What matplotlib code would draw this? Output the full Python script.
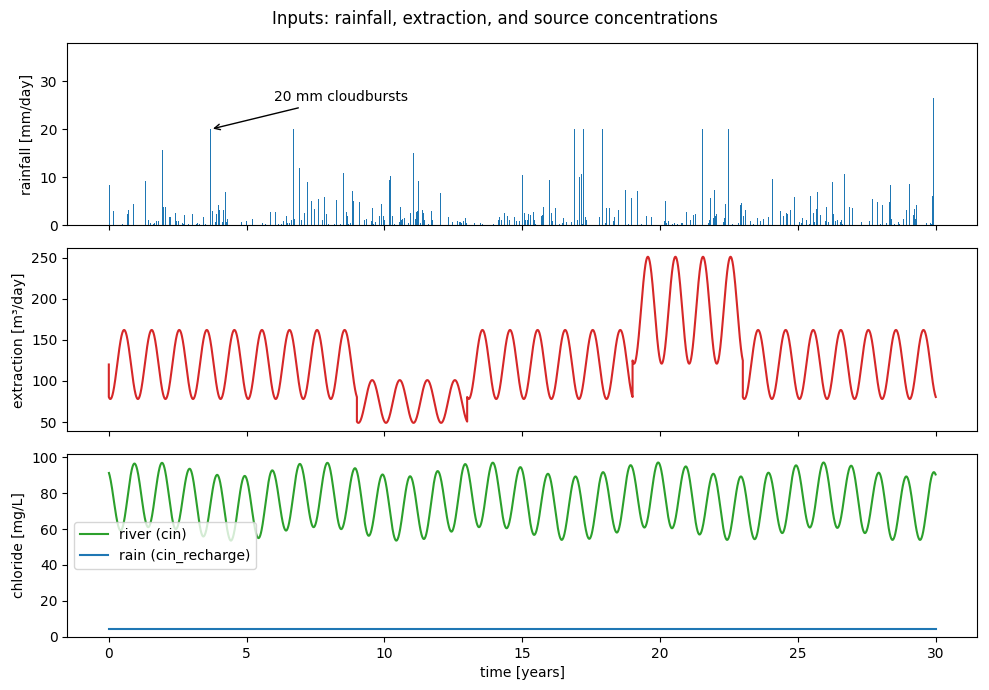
import numpy as np
import matplotlib
matplotlib.use("Agg")
import matplotlib.pyplot as plt

# rainfall events: time [years], amount [mm/day]
rain_t = [0.01, 0.18, 0.50, 0.69, 0.72, 0.90, 1.34, 1.44, 1.52, 1.63,
          1.66, 1.73, 1.80, 1.95, 1.99, 2.06, 2.21, 2.24, 2.42, 2.46,
          2.53, 2.67, 2.71, 2.75, 2.89, 3.04, 3.18, 3.22, 3.29, 3.43,
          3.51, 3.68, 3.75, 3.86, 3.90, 3.97, 4.01, 4.12, 4.15, 4.23,
          4.26, 4.30, 4.80, 4.98, 5.20, 5.56, 5.59, 5.63, 5.67, 5.85,
          5.88, 5.92, 6.03, 6.17, 6.28, 6.35, 6.46, 6.49, 6.56, 6.64,
          6.71, 6.75, 6.93, 7.00, 7.11, 7.22, 7.36, 7.47,
          7.61, 7.76, 7.83, 7.90, 7.97, 8.19, 8.26, 8.41, 8.52, 8.62,
          8.66, 8.70, 8.77, 8.84, 8.88, 9.10, 9.28, 9.35, 9.53, 9.56,
          9.60, 9.67, 9.82, 9.89, 9.96, 10.00, 10.18, 10.21, 10.28, 10.35,
          10.53, 10.57, 10.61, 10.64, 10.71, 10.86, 10.93, 11.04, 11.12, 11.15,
          11.19, 11.22, 11.30, 11.37, 11.41, 11.45, 11.59, 11.70, 11.73, 12.02,
          12.31, 12.46, 12.64, 12.71, 12.75, 12.78, 12.86, 12.93, 12.96, 13.25,
          13.47, 13.54, 13.94, 14.12, 14.19, 14.26, 14.30, 14.37, 14.48, 14.52,
          14.59, 14.73, 14.80, 14.91, 14.99, 15.01,
          15.08, 15.12, 15.19, 15.23, 15.30, 15.41, 15.45, 15.48, 15.70, 15.74,
          15.77, 15.99, 16.06, 16.10, 16.21, 16.35, 16.46, 16.49, 16.60, 16.78,
          16.89, 17.00, 17.07, 17.14, 17.18, 17.21, 17.29, 17.32, 17.79, 17.90,
          18.01, 18.05, 18.16, 18.30, 18.34, 18.48, 18.74, 18.85, 18.96, 19.17,
          19.32, 19.50, 19.68, 20.15, 20.19, 20.22, 20.29, 20.44, 20.51, 20.62,
          20.76, 20.80, 20.94, 21.09, 21.20, 21.27, 21.41, 21.54, 21.76, 21.79,
          21.83, 21.94, 21.97, 22.01, 22.05, 22.30, 22.33, 22.37, 22.48, 22.63,
          22.85, 22.92, 22.96, 23.03, 23.10, 23.28, 23.39, 23.53, 23.64, 23.75,
          23.93, 24.08, 24.36, 24.47, 24.58, 24.62, 24.73, 24.87, 25.05, 25.12,
          25.16, 25.30, 25.41, 25.45, 25.56, 25.59, 25.67, 25.70, 25.81, 25.99,
          26.03, 26.10, 26.24, 26.28, 26.35, 26.42, 26.53, 26.57, 26.60, 26.68,
          26.86, 26.97, 27.07, 27.29, 27.58, 27.69, 27.72, 27.87, 27.90, 27.94,
          28.01, 28.05, 28.08, 28.22, 28.33, 28.37, 28.40, 28.51, 28.66, 28.69,
          28.84, 28.94, 29.05, 29.20, 29.23, 29.27, 29.31, 29.67, 29.81, 29.85,
          29.88, 29.92]
rain_mm = [8.4, 3.0, 0.3, 2.4, 3.2, 4.4, 9.2, 1.1, 0.5, 0.3,
           0.5, 0.9, 0.9, 15.7, 3.8, 3.8, 1.7, 1.7, 2.6, 0.9,
           0.9, 0.5, 0.3, 2.2, 0.3, 2.4, 0.3, 0.5, 0.3, 1.7,
           0.3, 20.0, 3.0, 0.7, 2.4, 4.2, 3.2, 0.7, 3.2, 6.9,
           0.7, 1.3, 0.7, 0.9, 1.3, 0.3, 0.5, 1.3, 0.3, 2.8,
           0.3, 1.7, 2.8, 0.3, 0.3, 0.9, 1.9, 0.5, 0.5, 1.1,
           20.0, 1.3, 11.9, 1.1, 2.6, 9.0, 5.1, 3.4,
           5.5, 1.1, 5.9, 2.4, 0.3, 0.3, 5.3, 0.3, 10.9, 2.8,
           1.9, 0.3, 0.5, 7.2, 5.1, 4.9, 1.1, 1.3, 0.9, 3.6,
           0.3, 0.7, 1.9, 4.4, 1.9, 1.1, 9.4, 10.3, 1.9, 0.3,
           0.7, 3.8, 1.1, 1.3, 1.5, 0.5, 2.6, 15.1, 1.3, 2.8,
           3.0, 9.2, 0.5, 3.2, 2.6, 1.1, 0.3, 3.0, 1.1, 6.7,
           1.7, 0.7, 0.9, 0.7, 0.7, 0.5, 0.9, 1.5, 0.5, 0.5,
           0.5, 0.3, 0.3, 1.1, 1.7, 1.1, 1.5, 2.6, 1.9, 1.1,
           3.6, 1.7, 0.9, 0.9, 5.3, 10.5,
           2.6, 1.1, 1.1, 2.4, 2.2, 2.8, 1.1, 0.3, 1.9, 2.2,
           3.8, 9.4, 2.6, 0.9, 3.6, 0.3, 0.5, 1.5, 0.7, 0.7,
           20.0, 1.1, 10.1, 10.7, 0.3, 20.0, 1.7, 1.1, 1.7, 20.0,
           0.5, 3.6, 3.6, 0.9, 1.7, 3.2, 7.4, 0.3, 5.7, 7.2,
           0.3, 1.9, 1.7, 0.9, 5.1, 0.5, 0.9, 0.3, 0.5, 0.3,
           0.5, 0.5, 2.8, 1.1, 2.2, 2.4, 1.9, 20.0, 0.5, 1.1,
           5.7, 1.5, 7.4, 1.9, 2.4, 0.7, 1.5, 4.4, 20.0, 0.3,
           0.5, 4.2, 4.7, 1.9, 3.2, 0.9, 0.3, 1.5, 0.9, 1.3,
           1.7, 9.7, 3.0, 1.9, 2.6, 2.4, 3.2, 5.9, 0.7, 0.5,
           1.5, 1.1, 0.3, 6.1, 2.6, 0.7, 3.4, 6.9, 2.2, 0.9,
           3.8, 0.7, 9.0, 2.4, 0.9, 1.1, 0.7, 1.1, 0.3, 10.7,
           3.8, 3.6, 1.7, 0.7, 0.9, 5.5, 2.4, 3.0, 4.9, 2.4,
           0.3, 4.2, 0.5, 0.5, 4.9, 8.4, 1.3, 0.3, 0.7, 0.3,
           1.3, 3.2, 8.6, 2.2, 3.4, 1.3, 4.2, 0.5, 0.5, 0.3,
           6.1, 26.5]

# extraction: seasonal cycle per pumping regime
ext_start = [0, 9, 13, 19, 23]
ext_end = [9, 13, 19, 23, 30]
ext_mean = [120, 75, 120, 186, 120]
ext_amp = [42, 26, 42, 65, 42]
ext_phase = 0.055       # time of seasonal minimum within the year
ext_initial = 120

# river chloride: yearly peaks (at k+0.93) and troughs (at k+0.43)
river_peak = [93.2,
              96.6, 97.0, 93.7, 90.3, 89.7, 92.8, 96.4, 97.0, 94.0, 90.5,
              89.5, 92.4, 96.3, 97.1, 94.6, 90.9, 89.4, 91.8, 95.7, 97.2,
              95.0, 90.9, 89.4, 91.5, 95.6, 97.2, 95.4, 91.5, 89.4, 91.8]
river_trough = [59.2, 61.1, 60.0, 55.9, 53.6, 55.0, 59.2, 61.1, 60.0, 56.3,
                53.6, 54.5, 58.6, 61.1, 60.5, 56.8, 54.0, 54.6, 58.1, 60.9,
                60.5, 57.0, 54.0, 54.4, 57.8, 60.9, 60.7, 57.8, 54.0, 54.0,
                58.0]
rain_conc = 4.5
t_end = 30

# build extraction line
ext_t = [np.array([0.0])]
ext_v = [np.array([ext_initial])]
for s, e, m, a in zip(ext_start, ext_end, ext_mean, ext_amp):
    tt = np.linspace(s, e, int((e - s) * 120) + 1)
    ext_t.append(tt)
    ext_v.append(m - a * np.cos(2 * np.pi * (tt - ext_phase)))
ext_t = np.concatenate(ext_t)
ext_v = np.concatenate(ext_v)

# build river line: half-cosine between successive extremes
kt, kv = [], []
for k in range(len(river_peak)):
    kt.append(k - 0.07)
    kv.append(river_peak[k])
    if k < len(river_trough):
        kt.append(k + 0.43)
        kv.append(river_trough[k])
riv_t, riv_v = [], []
for i in range(len(kt) - 1):
    s = np.linspace(0, 1, 40, endpoint=False)
    riv_t.append(kt[i] + s * (kt[i + 1] - kt[i]))
    riv_v.append(kv[i] + (kv[i + 1] - kv[i]) * (1 - np.cos(np.pi * s)) / 2)
riv_t = np.concatenate(riv_t)
riv_v = np.concatenate(riv_v)
keep = (riv_t >= 0) & (riv_t <= t_end)
riv_t, riv_v = riv_t[keep], riv_v[keep]

fig, axes = plt.subplots(3, 1, figsize=(9.89, 6.9), dpi=100, sharex=True)
fig.subplots_adjust(left=0.068, right=0.988, top=0.938, bottom=0.077, hspace=0.126)
fig.suptitle("Inputs: rainfall, extraction, and source concentrations", y=0.985)

ax = axes[0]
ax.bar(rain_t, rain_mm, width=0.035, color="C0", linewidth=0)
ax.set_ylim(0, 38)
ax.set_ylabel("rainfall [mm/day]")
ax.annotate("20 mm cloudbursts", xy=(3.68, 20), xytext=(6.0, 25.8),
            arrowprops=dict(arrowstyle="->", color="black", lw=1))

ax = axes[1]
ax.plot(ext_t, ext_v, color="C3")
ax.set_ylabel("extraction [m³/day]")

ax = axes[2]
ax.plot(riv_t, riv_v, color="C2", label="river (cin)")
ax.plot([0, t_end], [rain_conc, rain_conc], color="C0", label="rain (cin_recharge)")
ax.set_ylabel("chloride [mg/L]")
ax.set_xlabel("time [years]")
ax.legend(loc="center left")

fig.savefig("out.png")
